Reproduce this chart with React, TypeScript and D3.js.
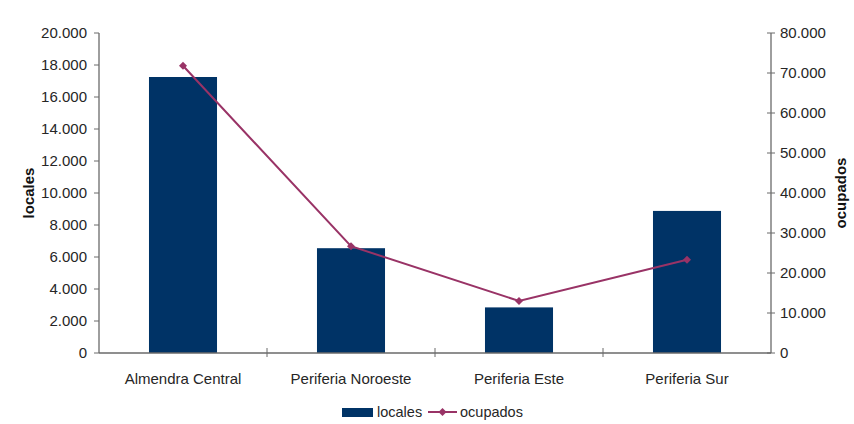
import React from "react";
import * as d3 from "d3";

const categories = ["Almendra Central", "Periferia Noroeste", "Periferia Este", "Periferia Sur"];
const locales = [17250, 6550, 2850, 8880];
const ocupados = [71800, 26700, 13000, 23300];
const leftTicks = [0, 2000, 4000, 6000, 8000, 10000, 12000, 14000, 16000, 18000, 20000];
const rightTicks = [0, 10000, 20000, 30000, 40000, 50000, 60000, 70000, 80000];

const W = 854, H = 424;
const M = { left: 99, right: 771, top: 33, bottom: 353 };
const BAR = "#003366";
const LINE = "#993366";
const AXIS = "#6a6a6a";
const FONT = "'Liberation Sans', Arial, sans-serif";

const fmt = (v: number) => d3.format(",")(v).replace(/,/g, ".");

export default function App() {
  const x = d3.scaleBand<string>().domain(categories).range([M.left, M.right]).paddingInner(0).paddingOuter(0);
  const yL = d3.scaleLinear().domain([0, 20000]).range([M.bottom, M.top]);
  const yR = d3.scaleLinear().domain([0, 80000]).range([M.bottom, M.top]);
  const bw = x.bandwidth() * 0.405;
  const cx = (c: string) => (x(c) as number) + x.bandwidth() / 2;
  const line = d3.line<number>().x((_, i) => cx(categories[i])).y((d) => yR(d));
  const diamond = (px: number, py: number, r = 4) => `M${px},${py - r}L${px + r},${py}L${px},${py + r}L${px - r},${py}Z`;

  return (
    <svg width={W} height={H} style={{ position: "absolute", left: 0, top: 0, background: "#fff" }} fontFamily={FONT}>
      <rect width={W} height={H} fill="#fff" />
      {categories.map((c, i) => (
        <rect key={c} x={cx(c) - bw / 2} y={yL(locales[i])} width={bw} height={M.bottom - yL(locales[i])} fill={BAR} />
      ))}
      {/* left axis */}
      <line x1={M.left} x2={M.left} y1={M.top} y2={M.bottom} stroke={AXIS} strokeWidth={1.3} />
      {leftTicks.map((t) => (
        <g key={t}>
          <line x1={M.left - 5} x2={M.left} y1={yL(t)} y2={yL(t)} stroke={AXIS} />
          <text x={M.left - 12} y={yL(t)} dy="0.36em" textAnchor="end" fontSize={15} fill="#262626">{fmt(t)}</text>
        </g>
      ))}
      {/* right axis */}
      <line x1={M.right} x2={M.right} y1={M.top} y2={M.bottom} stroke={AXIS} strokeWidth={1.3} />
      {rightTicks.map((t) => (
        <g key={t}>
          <line x1={M.right - 4} x2={M.right + 4} y1={yR(t)} y2={yR(t)} stroke={AXIS} />
          <text x={M.right + 9} y={yR(t)} dy="0.36em" textAnchor="start" fontSize={15} fill="#262626">{fmt(t)}</text>
        </g>
      ))}
      {/* bottom axis */}
      <line x1={M.left} x2={M.right} y1={M.bottom} y2={M.bottom} stroke={AXIS} strokeWidth={1.3} />
      {categories.slice(1).map((c) => (
        <line key={c} x1={x(c) as number} x2={x(c) as number} y1={M.bottom - 5} y2={M.bottom + 4} stroke={AXIS} />
      ))}
      {categories.map((c) => (
        <text key={c} x={cx(c)} y={384} textAnchor="middle" fontSize={15} fill="#262626">{c}</text>
      ))}
      {/* line */}
      <path d={line(ocupados) || ""} fill="none" stroke={LINE} strokeWidth={2} />
      {ocupados.map((v, i) => (
        <path key={i} d={diamond(cx(categories[i]), yR(v))} fill={LINE} />
      ))}
      {/* axis titles */}
      <text transform={`translate(34,193) rotate(-90)`} textAnchor="middle" fontSize={15} fontWeight="bold" fill="#111">locales</text>
      <text transform={`translate(846,193) rotate(-90)`} textAnchor="middle" fontSize={15} fontWeight="bold" fill="#111">ocupados</text>
      {/* legend */}
      <rect x={342} y={408} width={31} height={9} fill={BAR} />
      <text x={377} y={412} dy="0.36em" fontSize={14.5} fill="#262626">locales</text>
      <line x1={428} x2={457} y1={412} y2={412} stroke={LINE} strokeWidth={2} />
      <path d={diamond(442.5, 412)} fill={LINE} />
      <text x={460} y={412} dy="0.36em" fontSize={14.5} fill="#262626">ocupados</text>
    </svg>
  );
}
